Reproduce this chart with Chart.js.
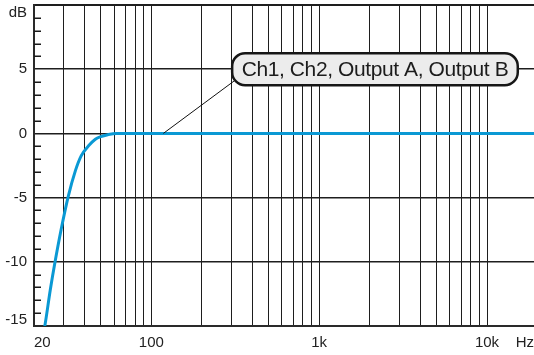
<!DOCTYPE html>
<html>
<head>
<meta charset="utf-8">
<script src="https://cdn.jsdelivr.net/npm/chart.js@4/dist/chart.umd.min.js"></script>
<style>
  html, body { margin: 0; padding: 0; background: #fff; }
  #wrap { width: 534px; height: 355px; }
</style>
</head>
<body>
<div id="wrap"><canvas id="response"></canvas></div>
<script>
// response curve (Hz / dB)
const freqs = [22, 23.2, 25, 26.7, 29, 32, 35.3, 38.2, 42.4, 46.4, 50, 55, 62, 70, 100, 1000, 10000, 20000];
const gains = [-16.5, -15, -12.2, -10, -7.5, -4.9, -2.9, -1.75, -0.95, -0.45, -0.25, -0.1, 0, 0, 0, 0, 0, 0];

// x axis
const xMin = 20;
const xMax = 19050;
const xGrid = [20, 30, 40, 50, 60, 70, 80, 90, 100, 200, 300, 400, 500, 600, 700, 800, 900,
  1000, 2000, 3000, 4000, 5000, 6000, 7000, 8000, 9000, 10000];
const xLabels = { 20: '20', 100: '100', 1000: '1k', 10000: '10k' };
const xUnit = 'Hz';

// y axis
const yMin = -15;
const yMax = 10;
const yGrid = [-15, -10, -5, 0, 5, 10];
const yLabelAt = [-14.5, -10, -5, 0, 5, 9.4];
const yLabels = ['-15', '-10', '-5', '0', '5', 'dB'];
const yMinor = [-14, -13, -12, -11, -9, -8, -7, -6, -4, -3, -2, -1, 1, 2, 3, 4, 6, 7, 8, 9];

const calloutText = 'Ch1, Ch2, Output A, Output B';
const calloutCentre = { x: 2150, y: 5 };
const calloutPointer = { x: 118, y: 0 };

const FONT = '"Liberation Sans", Arial, Helvetica, sans-serif';

const yTickValues = [...new Set([...yGrid, ...yLabelAt])].sort((a, b) => a - b);

const minorTicks = {
  id: 'minorTicks',
  afterDatasetsDraw(chart) {
    const { ctx, chartArea, scales } = chart;
    ctx.save();
    ctx.strokeStyle = '#1a1a1a';
    ctx.lineWidth = 1.5;
    yMinor.forEach(v => {
      const y = Math.round(scales.y.getPixelForValue(v)) + 0.25;
      ctx.beginPath();
      ctx.moveTo(chartArea.left, y);
      ctx.lineTo(chartArea.left + 7, y);
      ctx.stroke();
    });
    ctx.restore();
  }
};

const callout = {
  id: 'callout',
  afterDatasetsDraw(chart) {
    const { ctx, scales } = chart;
    const cx = scales.x.getPixelForValue(calloutCentre.x);
    const cy = scales.y.getPixelForValue(calloutCentre.y);
    const px = scales.x.getPixelForValue(calloutPointer.x);
    const py = scales.y.getPixelForValue(calloutPointer.y);
    ctx.save();
    ctx.font = '21px ' + FONT;
    if ('letterSpacing' in ctx) ctx.letterSpacing = '-0.4px';
    const w = ctx.measureText(calloutText).width + 19;
    const h = 32;
    const x0 = cx - w / 2;
    const y0 = cy - h / 2;

    ctx.strokeStyle = '#111';
    ctx.lineWidth = 1;
    ctx.beginPath();
    ctx.moveTo(x0 + 3, y0 + h - 5);
    ctx.lineTo(px, py);
    ctx.stroke();

    ctx.beginPath();
    ctx.roundRect(x0, y0, w, h, 13);
    ctx.fillStyle = '#ececec';
    ctx.fill();
    ctx.lineWidth = 2.5;
    ctx.strokeStyle = '#161616';
    ctx.stroke();

    ctx.fillStyle = '#1c1c1c';
    ctx.textAlign = 'center';
    ctx.textBaseline = 'middle';
    ctx.fillText(calloutText, cx, cy + 1);
    ctx.restore();
  }
};

new Chart(document.getElementById('response'), {
  type: 'line',
  data: {
    datasets: [{
      data: freqs.map((f, i) => ({ x: f, y: gains[i] })),
      borderColor: '#0a99d4',
      borderWidth: 3,
      pointRadius: 0,
      cubicInterpolationMode: 'monotone',
      clip: 0,
      fill: false
    }]
  },
  options: {
    responsive: true,
    maintainAspectRatio: false,
    animation: false,
    layout: { padding: { top: 5, right: 0, bottom: 0, left: 0 } },
    plugins: {
      legend: { display: false },
      tooltip: { enabled: false }
    },
    scales: {
      x: {
        type: 'logarithmic',
        min: xMin,
        max: xMax,
        afterBuildTicks: scale => {
          scale.ticks = [...xGrid, xMax].map(v => ({ value: v }));
        },
        afterFit: scale => {
          scale.height = 29;
          scale.paddingLeft = 0;
          scale.paddingRight = 0;
        },
        grid: {
          drawTicks: false,
          color: c => (c.tick && c.tick.value === xMax) ? 'rgba(0,0,0,0)' : '#1e1e1e',
          lineWidth: 1
        },
        border: { color: '#2a2a2a', width: 2 },
        ticks: {
          autoSkip: false,
          maxRotation: 0,
          align: 'inner',
          padding: 8,
          color: '#222',
          font: { family: FONT, size: 15 },
          callback: v => v === xMax ? xUnit : (xLabels[v] || '')
        }
      },
      y: {
        min: yMin,
        max: yMax,
        afterBuildTicks: scale => {
          scale.ticks = yTickValues.map(v => ({ value: v }));
        },
        afterFit: scale => {
          scale.width = 34;
          scale.paddingTop = 0;
          scale.paddingBottom = 0;
        },
        grid: {
          drawTicks: false,
          color: c => (c.tick && yGrid.includes(c.tick.value)) ? '#1e1e1e' : 'rgba(0,0,0,0)',
          lineWidth: c => (c.tick && c.tick.value === yMax) ? 2 : 1.5
        },
        border: { color: '#2a2a2a', width: 2 },
        ticks: {
          autoSkip: false,
          padding: 7,
          color: '#222',
          font: { family: FONT, size: 15 },
          callback: v => {
            const i = yLabelAt.indexOf(v);
            return i >= 0 ? yLabels[i] : '';
          }
        }
      }
    }
  },
  plugins: [minorTicks, callout]
});
</script>
</body>
</html>
